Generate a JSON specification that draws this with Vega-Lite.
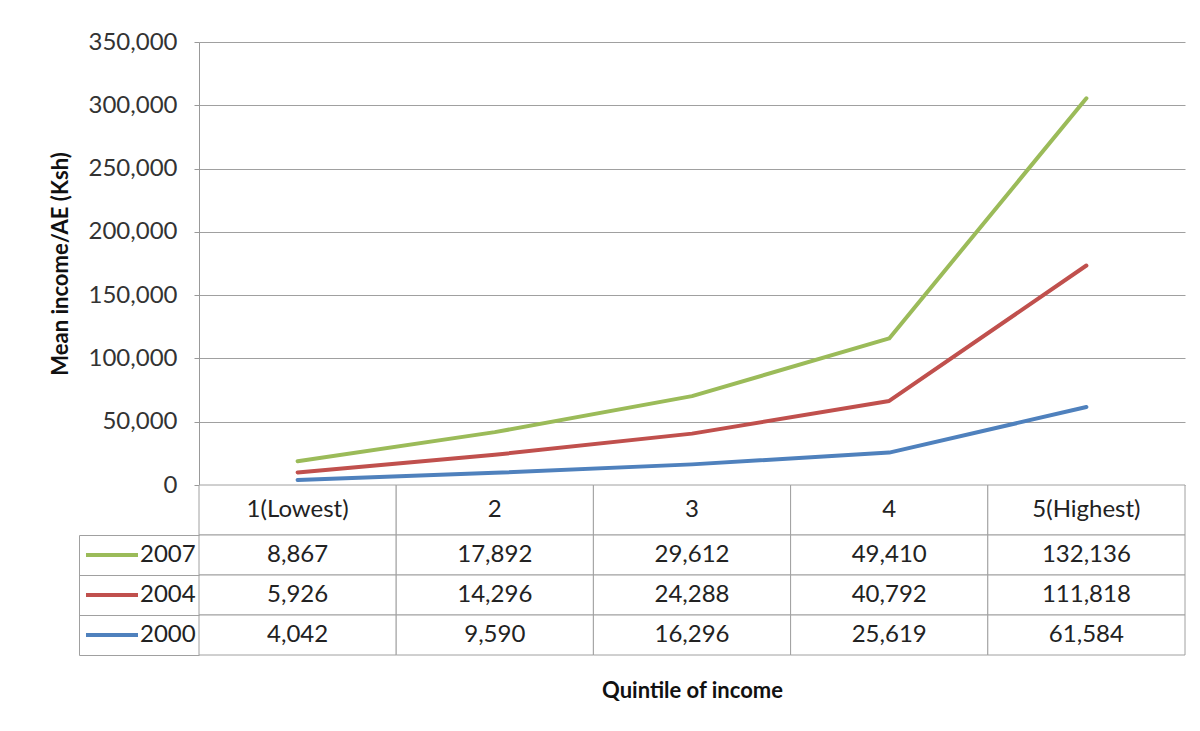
{
  "$schema": "https://vega.github.io/schema/vega-lite/v6.json",
  "background": "white",
  "padding": {"left": 49, "top": 30, "right": 0, "bottom": 0},
  "spacing": 0,
  "bounds": "flush",
  "datasets": {
    "income": [
      {"quintile": "1(Lowest)", "year": "2007", "income": 8867},
      {"quintile": "2", "year": "2007", "income": 17892},
      {"quintile": "3", "year": "2007", "income": 29612},
      {"quintile": "4", "year": "2007", "income": 49410},
      {"quintile": "5(Highest)", "year": "2007", "income": 132136},
      {"quintile": "1(Lowest)", "year": "2004", "income": 5926},
      {"quintile": "2", "year": "2004", "income": 14296},
      {"quintile": "3", "year": "2004", "income": 24288},
      {"quintile": "4", "year": "2004", "income": 40792},
      {"quintile": "5(Highest)", "year": "2004", "income": 111818},
      {"quintile": "1(Lowest)", "year": "2000", "income": 4042},
      {"quintile": "2", "year": "2000", "income": 9590},
      {"quintile": "3", "year": "2000", "income": 16296},
      {"quintile": "4", "year": "2000", "income": 25619},
      {"quintile": "5(Highest)", "year": "2000", "income": 61584}
    ]
  },
  "data": {"name": "income"},
  "config": {
    "font": "Lato",
    "view": {"stroke": null},
    "axis": {"labelFont": "Lato", "titleFont": "Lato"},
    "legend": {"labelFont": "Lato"}
  },
  "vconcat": [
    {
      "width": 986,
      "height": 443,
      "transform": [
        {"stack": "income", "groupby": ["quintile"], "sort": [{"field": "year", "order": "ascending"}], "as": ["cum_lo", "cum_hi"]}
      ],
      "mark": {"type": "line", "strokeWidth": 4, "strokeCap": "round", "strokeJoin": "round"},
      "encoding": {
        "x": {
          "field": "quintile", "type": "ordinal",
          "sort": ["1(Lowest)", "2", "3", "4", "5(Highest)"],
          "scale": {"type": "point", "padding": 0.5},
          "axis": null
        },
        "y": {
          "field": "cum_hi", "type": "quantitative",
          "scale": {"domain": [0, 350000], "nice": false},
          "axis": {
            "values": [0, 50000, 100000, 150000, 200000, 250000, 300000, 350000],
            "format": ",d",
            "title": "Mean income/AE (Ksh)",
            "titleFontSize": 22, "titleFontWeight": "bold", "titleColor": "#111",
            "titlePadding": 16,
            "labelFontSize": 24, "labelColor": "#333", "labelPadding": 17,
            "tickSize": 5, "tickColor": "#999", "domainColor": "#999",
            "grid": true, "gridColor": "#a0a0a0"
          }
        },
        "color": {
          "field": "year", "type": "nominal",
          "scale": {"domain": ["2007", "2004", "2000"], "range": ["#9BBB59", "#C0504D", "#4F81BD"]},
          "legend": {
            "orient": "none", "legendX": -115, "legendY": 493,
            "title": null, "symbolType": "stroke", "symbolSize": 2704, "symbolStrokeWidth": 4,
            "labelFontSize": 24, "labelColor": "#222", "labelOffset": 0,
            "clipHeight": 40, "rowPadding": 0, "padding": 0
          }
        }
      }
    },
    {
      "width": 986,
      "height": 50,
      "transform": [{"filter": "datum.year === '2007'"}],
      "encoding": {
        "x": {
          "field": "quintile", "type": "ordinal",
          "sort": ["1(Lowest)", "2", "3", "4", "5(Highest)"],
          "scale": {"type": "band", "paddingInner": 0, "paddingOuter": 0},
          "axis": null
        }
      },
      "layer": [
        {"mark": {"type": "rect", "fill": "white", "stroke": "#a0a0a0", "strokeWidth": 1}},
        {"mark": {"type": "text", "fontSize": 24, "color": "#222", "baseline": "middle"}, "encoding": {"text": {"field": "quintile"}}}
      ]
    },
    {
      "width": 986,
      "height": 120,
      "encoding": {
        "x": {
          "field": "quintile", "type": "ordinal",
          "sort": ["1(Lowest)", "2", "3", "4", "5(Highest)"],
          "scale": {"type": "band", "paddingInner": 0, "paddingOuter": 0},
          "axis": {
            "labels": false, "ticks": false, "domain": false,
            "title": "Quintile of income", "titleFontSize": 22, "titleFontWeight": "bold",
            "titleColor": "#111", "titlePadding": 25
          }
        },
        "y": {
          "field": "year", "type": "nominal",
          "sort": ["2007", "2004", "2000"],
          "scale": {"type": "band", "paddingInner": 0, "paddingOuter": 0},
          "axis": {
            "title": null, "labels": false, "tickBand": "extent",
            "offset": 120, "tickSize": -120, "tickColor": "#a0a0a0", "tickWidth": 1,
            "domainColor": "#a0a0a0"
          }
        }
      },
      "layer": [
        {"mark": {"type": "rect", "fill": "white", "stroke": "#a0a0a0", "strokeWidth": 1}},
        {"mark": {"type": "text", "fontSize": 24, "color": "#222", "baseline": "middle"}, "encoding": {"text": {"field": "income", "type": "quantitative", "format": ",d"}}}
      ]
    }
  ]
}
